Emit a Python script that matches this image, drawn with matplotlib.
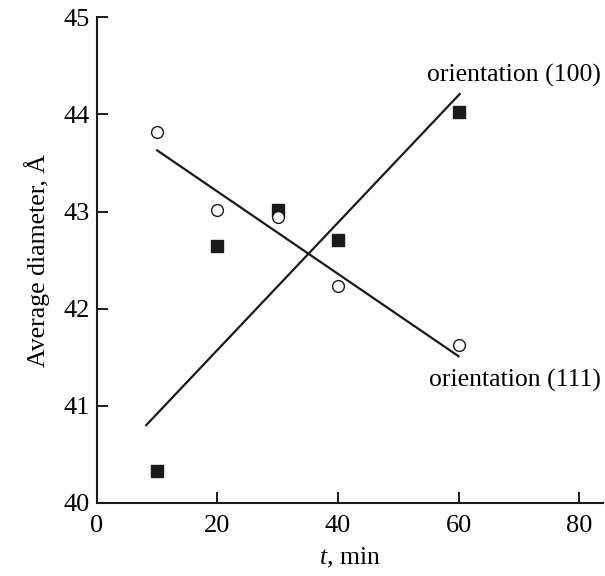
import matplotlib.pyplot as plt

plt.rcParams['font.family'] = ['Liberation Serif', 'DejaVu Serif']
plt.rcParams['mathtext.fontset'] = 'custom'
plt.rcParams['mathtext.it'] = 'Liberation Serif:italic'
plt.rcParams['mathtext.rm'] = 'Liberation Serif'

# measured points
t_min = [10, 20, 30, 40, 60]
d_100 = [40.33, 42.64, 43.02, 42.71, 44.02]
d_111 = [43.82, 43.02, 42.94, 42.23, 41.63]

# straight fit lines (end points)
fit100_t = [8.2, 60.2]
fit100_d = [40.80, 44.21]
fit111_t = [10, 60]
fit111_d = [43.63, 41.51]

fig = plt.figure(figsize=(6.05, 5.76), dpi=100)
ax = fig.add_axes([0.160, 0.127, 0.837, 0.843])

ax.plot(fit100_t, fit100_d, color='#1a1a1a', lw=1.6)
ax.plot(fit111_t, fit111_d, color='#1a1a1a', lw=1.6)
ax.plot(t_min, d_100, 's', color='#1a1a1a', ms=8.5, mec='#1a1a1a')
ax.plot(t_min, d_111, 'o', mfc='white', mec='#1a1a1a', ms=8.5, mew=1.0)

ax.text(83.6, 44.40, 'orientation (100)', ha='right', va='center', fontsize=18.5)
ax.text(83.6, 41.26, 'orientation (111)', ha='right', va='center', fontsize=18.5)

ax.set_xlim(0, 84)
ax.set_ylim(40, 45)
ax.set_xticks([0, 20, 40, 60, 80])
ax.set_yticks([40, 41, 42, 43, 44, 45])

for s in ['top', 'right']:
    ax.spines[s].set_visible(False)
for s in ['left', 'bottom']:
    ax.spines[s].set_linewidth(1.5)
    ax.spines[s].set_color('#1a1a1a')

ax.tick_params(direction='in', length=8, width=1.4, labelsize=19, color='#1a1a1a', pad=5)
ax.tick_params(axis='x', pad=9)
ax.set_xlabel('$t$, min', fontsize=18.5, labelpad=6)
ax.set_ylabel('Average diameter, Å', fontsize=18.5, labelpad=10)

fig.savefig('out.png', dpi=100)
